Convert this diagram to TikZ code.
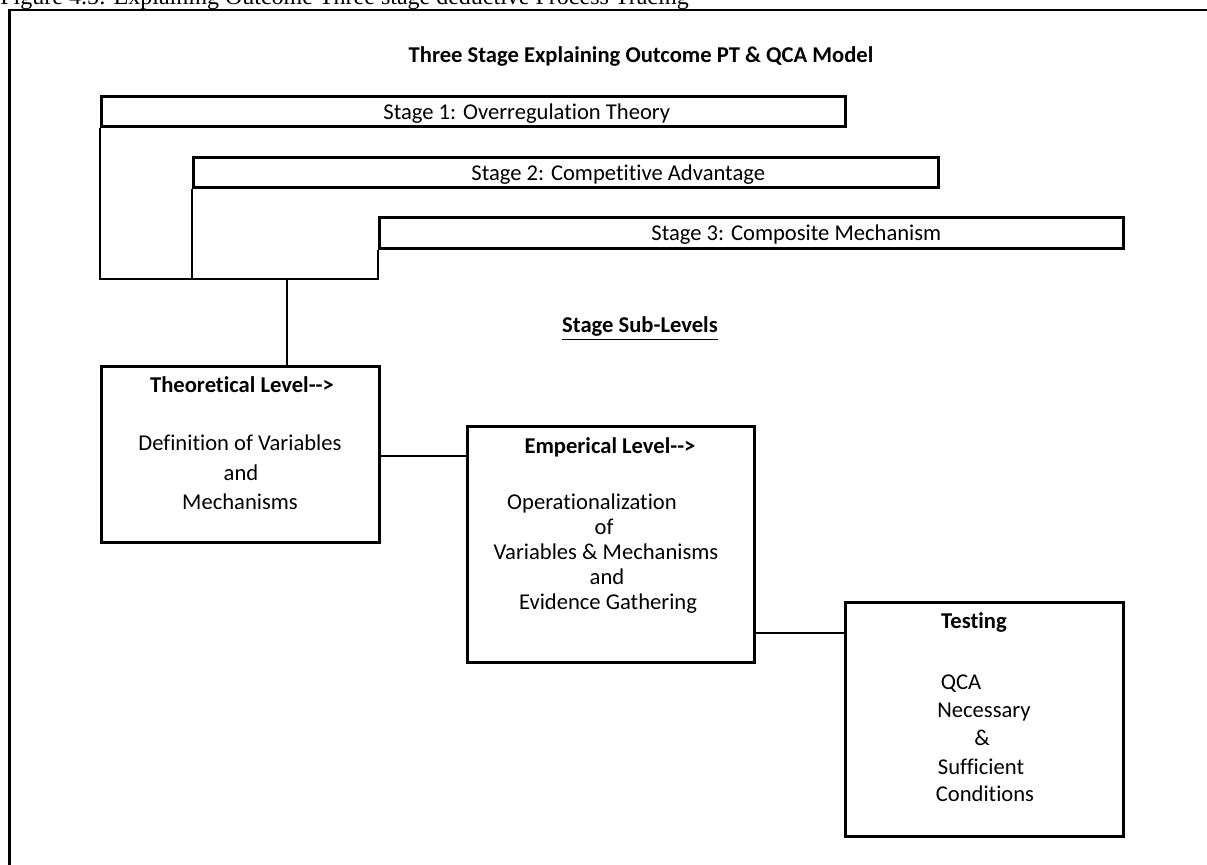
\documentclass[tikz,border=0pt]{standalone}
\usepackage{fontspec}
\setmainfont{Carlito}[Ligatures={NoCommon}]
\newfontfamily\capfont{Liberation Serif}
\usetikzlibrary{fit}
\begin{document}
\begin{tikzpicture}[x=0.5pt,y=-0.5pt,
  box/.style={draw,line width=1.5pt,inner sep=0pt,rectangle},
  conn/.style={line width=1pt},
  frameline/.style={line width=1.25pt},
  txt/.style={inner sep=0pt,text height=7.3pt,text depth=0pt,font=\fontsize{11.3}{13}\selectfont},
  btxt/.style={txt,font=\fontsize{11.3}{13}\selectfont\bfseries}
]
\useasboundingbox (0,0) rectangle (1207,865);
\clip (0,0) rectangle (1207,865);

% caption (cut off at top)
\node[inner sep=0pt,anchor=base west,font=\fontsize{12}{14}\capfont] (cap) at (0,4.5)
  {Figure 4.5: Explaining Outcome Three stage deductive Process Tracing};

% outer frame
\coordinate (fbl) at (9.5,880);
\coordinate (ftl) at (9.5,10);
\coordinate (ftr) at (1220,10);
\draw[frameline] (fbl) -- (ftl) -- (ftr);

% title
\node[btxt] (title) at (641,55) {Three Stage Explaining Outcome PT \& QCA Model};

% stage boxes
\node[box,fit={(101,97)(845,127)}] (s1) {};
\node[box,fit={(193,158)(938,188)}] (s2) {};
\node[box,fit={(379,218)(1123,249)}] (s3) {};
\node[txt,anchor=west] (s1t) at (383,112) {Stage 1: Overregulation Theory};
\node[txt,anchor=west] (s2t) at (471,173) {Stage 2: Competitive Advantage};
\node[txt,anchor=west] (s3t) at (651,233) {Stage 3: Composite Mechanism};

% bracket
\coordinate (base) at (0,279);
\coordinate (tap) at (287,279);
\draw[conn] (s1.south west) -- (s1.south west |- base) -- (s3.south west |- base) -- (s3.south west);
\draw[conn] (s2.south west) -- (s2.south west |- base);

% sub-level heading
\node[btxt] (sub) at (640,325) {\underline{Stage Sub-Levels}};

% theoretical box
\node[box,fit={(101,367)(379,543)}] (theo) {};
\node[btxt] (theo1) at (242,385) {Theoretical Level{-}{-}>};
\node[txt] (theo2) at (240,443) {Definition of Variables};
\node[txt] (theo3) at (241,473) {and};
\node[txt] (theo4) at (240,502) {Mechanisms};

% empirical box
\node[box,fit={(467,427)(754,663)}] (emp) {};
\node[btxt] (emp1) at (610,446) {Emperical Level{-}{-}>};
\node[txt] (emp2) at (592,502) {Operationalization};
\node[txt] (emp3) at (604,527) {of};
\node[txt] (emp4) at (606,552) {Variables \& Mechanisms};
\node[txt] (emp5) at (607,577) {and};
\node[txt] (emp6) at (608,602) {Evidence Gathering};

% testing box
\node[box,fit={(845,603)(1123,837)}] (test) {};
\node[btxt] (test1) at (974,621) {Testing};
\node[txt] (test2) at (961,682) {QCA};
\node[txt] (test3) at (984,710) {Necessary};
\node[txt] (test4) at (982,738) {\&};
\node[txt] (test5) at (981,767) {Sufficient};
\node[txt] (test6) at (985,794) {Conditions};

% connectors
\draw[conn] (tap) -- (tap |- theo.north);
\coordinate (c1) at (0,456);
\coordinate (c2) at (0,633);
\draw[conn] (theo.east |- c1) -- (emp.west |- c1);
\draw[conn] (emp.east |- c2) -- (test.west |- c2);
\end{tikzpicture}
\end{document}
